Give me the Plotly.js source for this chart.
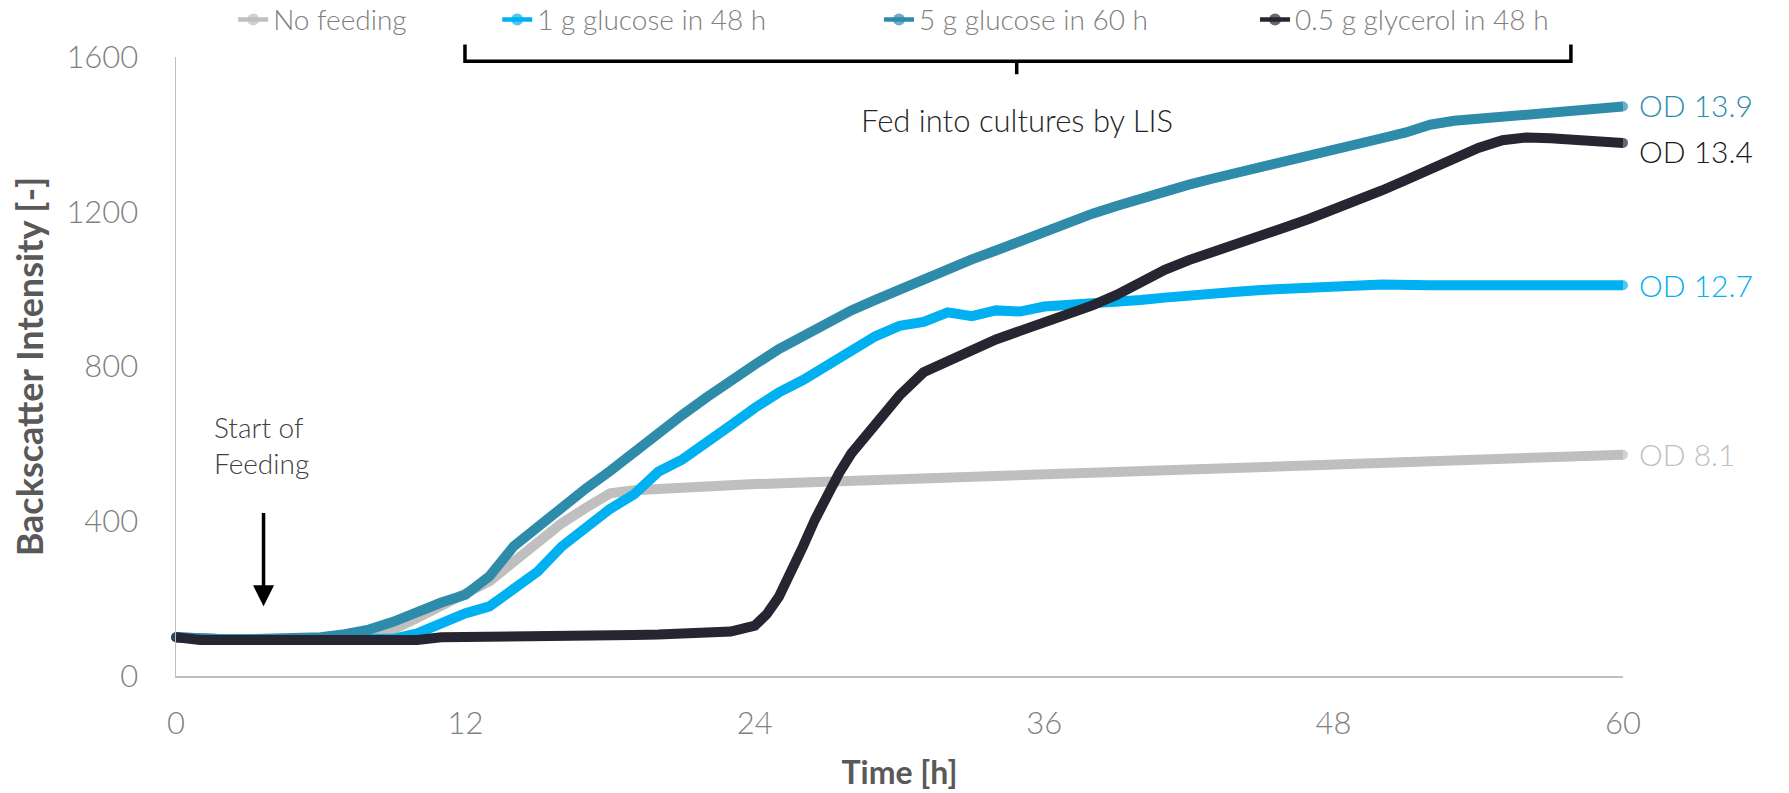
<!DOCTYPE html>
<html>
<head>
<meta charset="utf-8">
<script src="https://cdn.plot.ly/plotly-3.0.1.min.js"></script>
<style>
  html, body { margin: 0; padding: 0; background: #fff; }
  #chart { width: 1789px; height: 793px; }
  .legendlines path.js-line { stroke-width: 4.5px !important; }
</style>
</head>
<body>
<div id="chart"></div>
<script>
// ---- Data ----
const seriesNames = ["No feeding", "1 g glucose in 48 h", "5 g glucose in 60 h", "0.5 g glycerol in 48 h"];
const seriesColors = ["#BFBFBF", "#00B0F0", "#2F8BAA", "#262633"];
const endLabels = ["OD 8.1", "OD 12.7", "OD 13.9", "OD 13.4"];

const noFeedHours = [0,1,2,3,4,5,6,7,8,9,10,11,12,13,14,15,16,17,18,19,20,22,24,26,28,30,32,34,36,38,40,42,44,46,48,50,52,54,56,58,60];
const noFeedValues = [100,95,95,95,95,95,96,98,105,120,150,180,208,245,295,345,395,435,472,480,484,490,496,500,504,508,512,517,521,525,529,533,537,541,546,551,556,561,565,569,572];

const glc1Hours = [0,1,2,3,4,5,6,7,8,9,10,11,12,13,14,15,16,17,18,19,20,21,22,23,24,25,26,27,28,29,30,31,32,33,34,35,36,37,38,39,40,41,42,43,44,45,46,47,48,49,50,52,54,56,58,60];
const glc1Values = [100,95,95,95,95,95,95,95,95,96,110,135,162,180,225,270,335,385,432,470,528,560,608,648,693,733,765,803,835,878,905,915,940,930,945,942,955,958,962,968,972,978,985,990,993,998,1002,1005,1008,1013,1012,1010,1010,1010,1010,1010];

const glc5Hours = [0,1,2,3,4,5,6,7,8,9,10,11,12,13,14,15,16,17,18,19,20,21,22,23,24,25,26,27,28,29,30,31,32,33,34,35,36,37,38,39,40,41,42,43,44,45,46,47,48,49,50,51,52,53,54,55,56,57,58,59,60];
const glc5Values = [100,95,95,95,95,96,100,108,120,140,168,190,210,258,335,385,440,485,530,580,630,675,720,765,805,845,880,915,945,972,1000,1025,1055,1077,1100,1125,1150,1172,1195,1215,1235,1252,1270,1286,1300,1315,1330,1345,1360,1375,1390,1405,1425,1435,1440,1445,1452,1458,1462,1466,1472];

const glyHours = [0,1,2,4,6,8,10,11,12,14,16,17,18,19,20,21,22,23,24,24.5,25,25.5,26,26.5,27,27.5,28,29,30,31,32,33,34,35,36,37,38,39,40,41,42,43,44,45,46,47,48,49,50,51,52,53,54,55,56,57,58,59,60];
const glyValues = [100,93,93,93,93,93,93,100,100,100,100,101,105,106,107,108,110,115,130,160,205,265,335,405,470,525,575,655,725,785,815,845,870,892,912,935,958,985,1020,1050,1075,1095,1115,1137,1160,1182,1205,1228,1255,1282,1310,1337,1365,1385,1392,1390,1386,1383,1378];

const xTicks = [0,12,24,36,48,60];
const yTicks = [0,400,800,1200,1600];

// ---- Chart ----
const FONT = 'Lato, "Liberation Sans", "DejaVu Sans", sans-serif';
const hours = [noFeedHours, glc1Hours, glc5Hours, glyHours];
const values = [noFeedValues, glc1Values, glc5Values, glyValues];
const legendIds = ["legend", "legend2", "legend3", "legend4"];

// round end caps: marker only on the first and last point of each line
function endMarkerSizes(n) {
  return Array.from({ length: n }, (_, k) => (k === 0 || k === n - 1) ? 10 : 0);
}

const traces = seriesNames.map((name, i) => ({
  type: "scatter",
  mode: "lines+markers",
  name: name,
  x: hours[i],
  y: values[i],
  line: { color: seriesColors[i], width: 10 },
  marker: { color: seriesColors[i], size: endMarkerSizes(hours[i].length), line: { width: 0, color: seriesColors[i] } },
  cliponaxis: false,
  hoverinfo: "skip",
  legend: legendIds[i]
}));

const legendBase = {
  orientation: "h",
  y: 1.06,
  yanchor: "middle",
  xanchor: "left",
  itemsizing: "constant",
  bgcolor: "rgba(0,0,0,0)",
  font: { family: FONT, size: 28, color: "#7F7F7F", weight: 300 }
};

const odY = [574, 1010, 1476, 1357];

const annotations = [
  {
    xref: "paper", yref: "paper", x: 0.581, y: 0.932,
    text: "Fed into cultures by LIS", showarrow: false,
    font: { family: FONT, size: 31, color: "#262626", weight: 300 }
  },
  {
    xref: "x", yref: "y", x: 1.5, y: 598, xanchor: "left", align: "left",
    text: "Start of<br>Feeding", showarrow: false,
    font: { family: FONT, size: 28, color: "#404040", weight: 300 }
  },
  {
    xref: "x", yref: "y", axref: "x", ayref: "y",
    x: 3.63, y: 180, ax: 3.63, ay: 425, text: "",
    showarrow: true, arrowhead: 2, arrowsize: 1.2, arrowwidth: 3.5, arrowcolor: "#000000"
  }
].concat(endLabels.map((t, i) => ({
  xref: "paper", yref: "y", x: 1.01, y: odY[i], xanchor: "left", yanchor: "middle",
  text: t, showarrow: false,
  font: { family: FONT, size: 30, color: i === 3 ? "#1A1A1A" : seriesColors[i], weight: 300 }
})));

const layout = {
  width: 1789,
  height: 793,
  margin: { l: 176, r: 166, t: 57, b: 117, autoexpand: false },
  paper_bgcolor: "#FFFFFF",
  plot_bgcolor: "#FFFFFF",
  font: { family: FONT, color: "#7F7F7F" },
  showlegend: true,
  legend: Object.assign({}, legendBase, { x: 0.0395 }),
  legend2: Object.assign({}, legendBase, { x: 0.222 }),
  legend3: Object.assign({}, legendBase, { x: 0.4858 }),
  legend4: Object.assign({}, legendBase, { x: 0.7457 }),
  xaxis: {
    range: [0, 60],
    tickvals: xTicks,
    ticktext: xTicks.map(String),
    showgrid: false, zeroline: false,
    showline: true, linecolor: "#BFBFBF", linewidth: 1.5,
    ticks: "", ticklabelstandoff: 19,
    tickfont: { family: FONT, size: 31, color: "#7F7F7F", weight: 300 },
    title: { text: "Time [h]", standoff: 22, font: { family: FONT, size: 32, color: "#595959", weight: "bold" } }
  },
  yaxis: {
    range: [0, 1600],
    tickvals: yTicks,
    ticktext: yTicks.map(String),
    showgrid: false, zeroline: false,
    showline: true, linecolor: "#BFBFBF", linewidth: 1.5,
    ticks: "", ticklabelstandoff: 30,
    tickfont: { family: FONT, size: 31, color: "#7F7F7F", weight: 300 },
    title: { text: "Backscatter Intensity [-]", standoff: 12, font: { family: FONT, size: 36, color: "#595959", weight: "bold" } }
  },
  shapes: [
    {
      type: "path", xref: "paper", yref: "paper",
      path: "M 0.1997,1.02 L 0.1997,0.993 L 0.964,0.993 L 0.964,1.02 M 0.581,0.993 L 0.581,0.972",
      line: { color: "#000000", width: 3.5 }
    }
  ],
  annotations: annotations
};

Plotly.newPlot("chart", traces, layout, { staticPlot: true, displayModeBar: false });
</script>
</body>
</html>
